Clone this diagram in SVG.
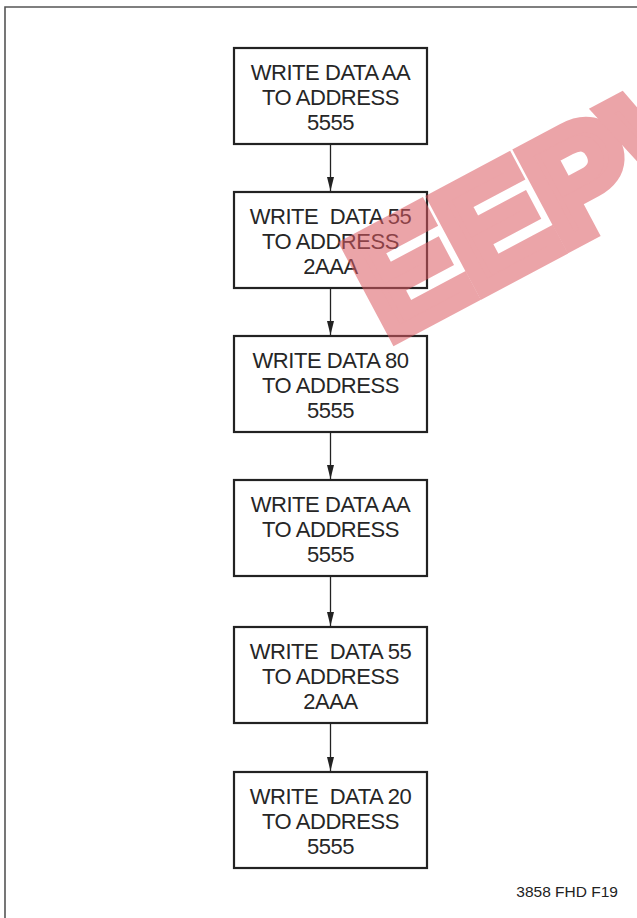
<svg xmlns="http://www.w3.org/2000/svg" width="637" height="918" viewBox="0 0 637 918">
<style>
.box rect{fill:#fff;stroke:#222;stroke-width:2.2}
.box text{font-family:"Liberation Sans",Arial,sans-serif;font-size:22px;letter-spacing:-0.45px;fill:#262626;text-anchor:middle;white-space:pre}
.conn line{stroke:#222;stroke-width:1.3}
.note{font-family:"Liberation Sans",Arial,sans-serif;font-size:15.5px;fill:#222;text-anchor:end}
.wm{font-family:"Liberation Sans",Arial,sans-serif;font-weight:bold;font-size:148px;fill:#dc5a62;stroke:#dc5a62;stroke-width:16;stroke-linejoin:miter;opacity:0.55}
</style>
<defs>
<marker id="arr" viewBox="0 0 14 7" refX="14" refY="3.5" markerWidth="14" markerHeight="7" markerUnits="userSpaceOnUse" orient="auto">
<path d="M0,0 L14,3.5 L0,7 Z" fill="#222"/>
</marker>
</defs>
<rect width="637" height="918" fill="#fff"/>
<path d="M5,918 V7 H637" fill="none" stroke="#555" stroke-width="1.6"/>
<g class="conn">
<line x1="330.5" y1="144" x2="330.5" y2="191" marker-end="url(#arr)"/>
<line x1="330.5" y1="288" x2="330.5" y2="335" marker-end="url(#arr)"/>
<line x1="330.5" y1="432" x2="330.5" y2="479" marker-end="url(#arr)"/>
<line x1="330.5" y1="576" x2="330.5" y2="626" marker-end="url(#arr)"/>
<line x1="330.5" y1="723" x2="330.5" y2="771" marker-end="url(#arr)"/>
</g>
<g id="n1" class="box"><rect x="234" y="48" width="193" height="96"/>
<text x="330.5" y="80">WRITE DATA AA</text><text x="330.5" y="105">TO ADDRESS</text><text x="330.5" y="130">5555</text></g>
<g id="n2" class="box"><rect x="234" y="192" width="193" height="96"/>
<text x="330.5" y="224" xml:space="preserve">WRITE  DATA 55</text><text x="330.5" y="249">TO ADDRESS</text><text x="330.5" y="274">2AAA</text></g>
<g id="n3" class="box"><rect x="234" y="336" width="193" height="96"/>
<text x="330.5" y="368">WRITE DATA 80</text><text x="330.5" y="393">TO ADDRESS</text><text x="330.5" y="418">5555</text></g>
<g id="n4" class="box"><rect x="234" y="480" width="193" height="96"/>
<text x="330.5" y="512">WRITE DATA AA</text><text x="330.5" y="537">TO ADDRESS</text><text x="330.5" y="562">5555</text></g>
<g id="n5" class="box"><rect x="234" y="627" width="193" height="96"/>
<text x="330.5" y="659" xml:space="preserve">WRITE  DATA 55</text><text x="330.5" y="684">TO ADDRESS</text><text x="330.5" y="709">2AAA</text></g>
<g id="n6" class="box"><rect x="234" y="772" width="193" height="96"/>
<text x="330.5" y="804" xml:space="preserve">WRITE  DATA 20</text><text x="330.5" y="829">TO ADDRESS</text><text x="330.5" y="854">5555</text></g>
<text class="note" x="618" y="897">3858 FHD F19</text>
<text class="wm" x="388" y="340" transform="rotate(-28 388 340)">EEPW</text>
</svg>
